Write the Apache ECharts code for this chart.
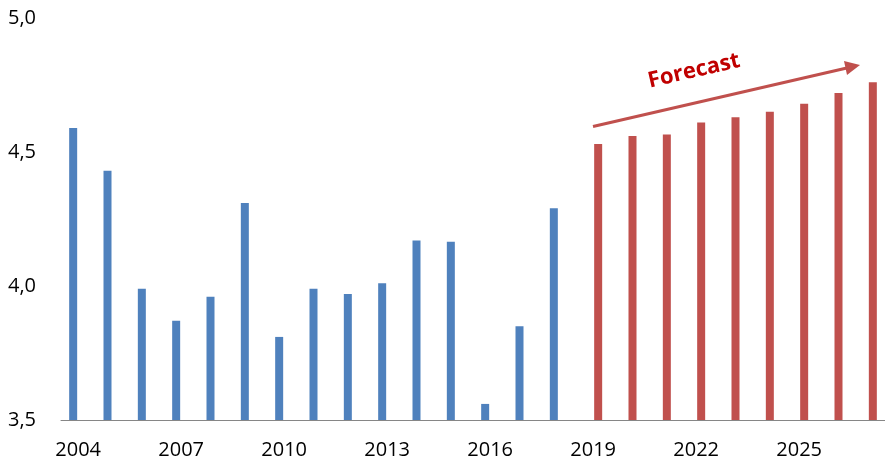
<!DOCTYPE html>
<html><head><meta charset="utf-8">
<script src="https://cdn.jsdelivr.net/npm/echarts@6/dist/echarts.min.js"></script>
<style>html,body{margin:0;padding:0;background:#fff}#c{width:885px;height:462px}</style>
</head><body><div id="c"></div>
<script>
var years = ['2004','2005','2006','2007','2008','2009','2010','2011','2012','2013','2014','2015','2016','2017','2018','2019','2020','2021','2022','2023','2024','2025','2026','2027'];
var actual = [4.59,4.43,3.99,3.87,3.96,4.31,3.81,3.99,3.97,4.01,4.17,4.165,3.56,3.85,4.29,null,null,null,null,null,null,null,null,null];
var forecast = [null,null,null,null,null,null,null,null,null,null,null,null,null,null,null,4.53,4.56,4.565,4.61,4.63,4.65,4.68,4.72,4.76];
var yTicks = [3.5, 4.0, 4.5, 5.0];
var annotationText = 'Forecast';

var chart = echarts.init(document.getElementById('c'));
var font = 'Open Sans';
chart.setOption({
  animation: false,
  grid: {left: 61, top: 18, width: 828, height: 402},
  xAxis: {
    type: 'category', data: years,
    axisLine: {lineStyle: {color: '#868686', width: 1}},
    axisTick: {interval: 0, length: 7, lineStyle: {color: '#868686'}},
    axisLabel: {interval: 2, color: '#000', fontFamily: font, fontSize: 20, margin: 20}
  },
  yAxis: {
    type: 'value', min: yTicks[0], max: yTicks[yTicks.length-1], interval: 0.5,
    axisLine: {show: false}, axisTick: {show: false}, splitLine: {show: false},
    axisLabel: {color: '#000', fontFamily: font, fontSize: 20, align: 'left', margin: 53,
      formatter: function(v){ return v.toFixed(1).replace('.', ','); }}
  },
  series: [
    {type: 'bar', data: actual, barWidth: 8, barGap: '25%', itemStyle: {color: '#4f81bd'}},
    {type: 'bar', data: forecast, barWidth: 8, barGap: '25%', itemStyle: {color: '#c0504d'}}
  ],
  graphic: [
    {type: 'line', shape: {x1: 593, y1: 126.5, x2: 849, y2: 67.5}, style: {stroke: '#c0504d', lineWidth: 3}},
    {type: 'polygon', shape: {points: [[860, 65], [844, 61], [847, 75]]}, style: {fill: '#c0504d'}},
    {type: 'text', x: 694, y: 71, rotation: 13 * Math.PI / 180,
      style: {text: annotationText, fill: '#c00000', font: 'bold 22px "Open Sans"', align: 'center', verticalAlign: 'middle'}}
  ]
});
</script></body></html>
